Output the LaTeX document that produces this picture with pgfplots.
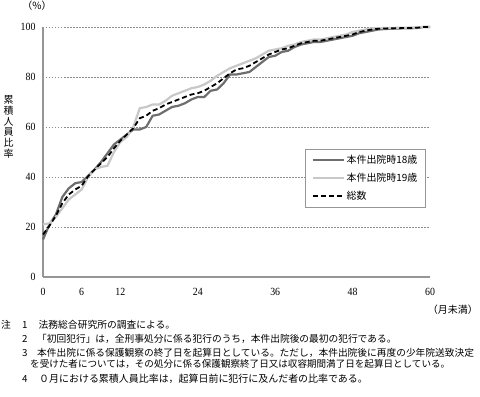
\documentclass[border=0pt]{standalone}
\usepackage{pgfplots}
\pgfplotsset{compat=1.18}
\usepackage{pgfplotstable}
\usepackage{fontspec}
\setmainfont{Liberation Serif}
\newfontfamily\cjk{Noto Sans CJK JP}
\newfontfamily\tickfont[FakeStretch=0.9]{Liberation Serif}
\definecolor{dk}{RGB}{110,110,110}
\definecolor{lt}{RGB}{200,200,200}
\definecolor{axc}{RGB}{150,150,150}
\definecolor{gridc}{RGB}{140,140,140}

\pgfplotstableread{
m a b c
0 15 21 17
1 21 21.5 20.5
2 25 24 24.5
3 32 27.5 29.5
4 35.5 31 33
5 37.5 33 35
6 38 35 36.5
7 40.5 40 40.3
8 43 43 43
9 46 44 45.5
10 49.5 44.5 48
11 53 50 51.5
12 55 54 54.5
13 57 56 57
14 59 60 59.5
15 59 67.5 63.5
16 60 68 64.5
17 64.5 69 66.5
18 65 69 67.5
19 66.5 70.5 69
20 68 72.5 70
21 68.5 73.5 71
22 69.5 74.5 72
23 71 75.5 73
24 72 76 73.5
25 72 77 74.5
26 74.5 78.5 76
27 75 80.5 77.5
28 77.5 82 79.5
29 81 83.5 81.5
30 81 84.5 83
31 81.5 85.5 83.5
32 82 86.5 84.5
33 84 87.5 86
34 86 89 87.5
35 88 90.5 89
36 88.5 91 90
37 90 91.5 91
38 90.5 92.5 91.5
39 92 93 92.5
40 93 94 93.5
41 93.5 94.5 94
42 94 95 94.5
43 94 95 94.5
44 94.5 95.5 95
45 95 96 95.5
46 95.5 96.5 96
47 96 97 96.5
48 96.5 98 97
49 97.5 98.5 98
50 98 99 98.5
51 98.5 99.5 99
52 99 99.5 99.3
53 99.2 99.6 99.4
54 99.3 99.6 99.5
55 99.4 99.7 99.5
56 99.5 99.7 99.6
57 99.5 99.8 99.6
58 99.6 99.8 99.7
59 100 100 100
60 100 100 100
}\data

\begin{document}
\begin{tikzpicture}
\path[use as bounding box] (0,0) rectangle (480bp,397bp);
\begin{axis}[
  at={(43bp,120bp)}, anchor=south west,
  scale only axis, width=387bp, height=250bp,
  xmin=0, xmax=60, ymin=0, ymax=100,
  clip=false,
  axis lines*=left,
  axis line style={axc, line width=1.2bp},
  xtick={0,6,12,24,36,48,60},
  ytick={0,20,40,60,80,100},
  major tick length=0pt,
  ymajorgrids,
  grid style={gridc, line width=0.7bp, dash pattern=on 1.5bp off 1.5bp},
  /pgf/number format/assume math mode=true,
  ticklabel style={font=\tickfont\fontsize{11}{13}\selectfont},
  yticklabel style={xshift=-4bp},
  xticklabel style={yshift=-8bp},
  legend style={at={(0.677,0.512)}, anchor=north west, draw=axc, line width=0.8bp,
    font=\cjk\fontsize{10}{12}\selectfont, row sep=4bp, inner xsep=6bp, inner ysep=4bp},
  legend cell align=left,
  legend image code/.code={\draw[#1] plot coordinates {(0bp,0bp)(31bp,0bp)};},
]
\addplot[dk, line width=2.2bp] table[x=m,y=a]{\data};
\addlegendentry{本件出院時18歳}
\addplot[lt, line width=2.2bp] table[x=m,y=b]{\data};
\addlegendentry{本件出院時19歳}
\addplot[black, line width=1.8bp, dash pattern=on 5bp off 3bp] table[x=m,y=c]{\data};
\addlegendentry{総数}
\end{axis}
\node[font=\cjk\fontsize{10}{12}\selectfont] at (37bp,391bp) {（\%）};
\node[font=\cjk\fontsize{10}{10.8}\selectfont, align=center, inner sep=0pt] at (8.5bp,270bp) {累\\積\\人\\員\\比\\率};
\node[font=\cjk\fontsize{10}{12}\selectfont, anchor=east, inner sep=0pt] at (478bp,87bp) {（月未満）};
\begin{scope}[every node/.style={anchor=west, inner sep=0pt}]
\node[font=\cjk\fontsize{9.8}{12}\selectfont] at (1bp,72bp) {注};
\node[font=\cjk\fontsize{9.8}{12}\selectfont] at (22bp,72bp) {1};
\node[font=\cjk\fontsize{9.8}{12}\selectfont] at (38.5bp,72bp) {法務総合研究所の調査による。};
\node[font=\cjk\fontsize{9.8}{12}\selectfont] at (22bp,57.7bp) {2};
\node[font=\cjk\fontsize{9.75}{12}\selectfont] at (37bp,57.7bp) {「初回犯行」は，全刑事処分に係る犯行のうち，本件出院後の最初の犯行である。};
\node[font=\cjk\fontsize{9.8}{12}\selectfont] at (22bp,44.3bp) {3};
\node[font=\cjk\fontsize{9.75}{12}\selectfont] at (37bp,44.3bp) {本件出院に係る保護観察の終了日を起算日としている。ただし，本件出院後に再度の少年院送致決定};
\node[font=\cjk\fontsize{9.6}{12}\selectfont] at (30bp,32.7bp) {を受けた者については，その処分に係る保護観察終了日又は収容期間満了日を起算日としている。};
\node[font=\cjk\fontsize{9.8}{12}\selectfont] at (22bp,18bp) {4};
\node[font=\cjk\fontsize{10}{12}\selectfont] at (39bp,18bp) {０月における累積人員比率は，起算日前に犯行に及んだ者の比率である。};
\end{scope}
\end{tikzpicture}
\end{document}
